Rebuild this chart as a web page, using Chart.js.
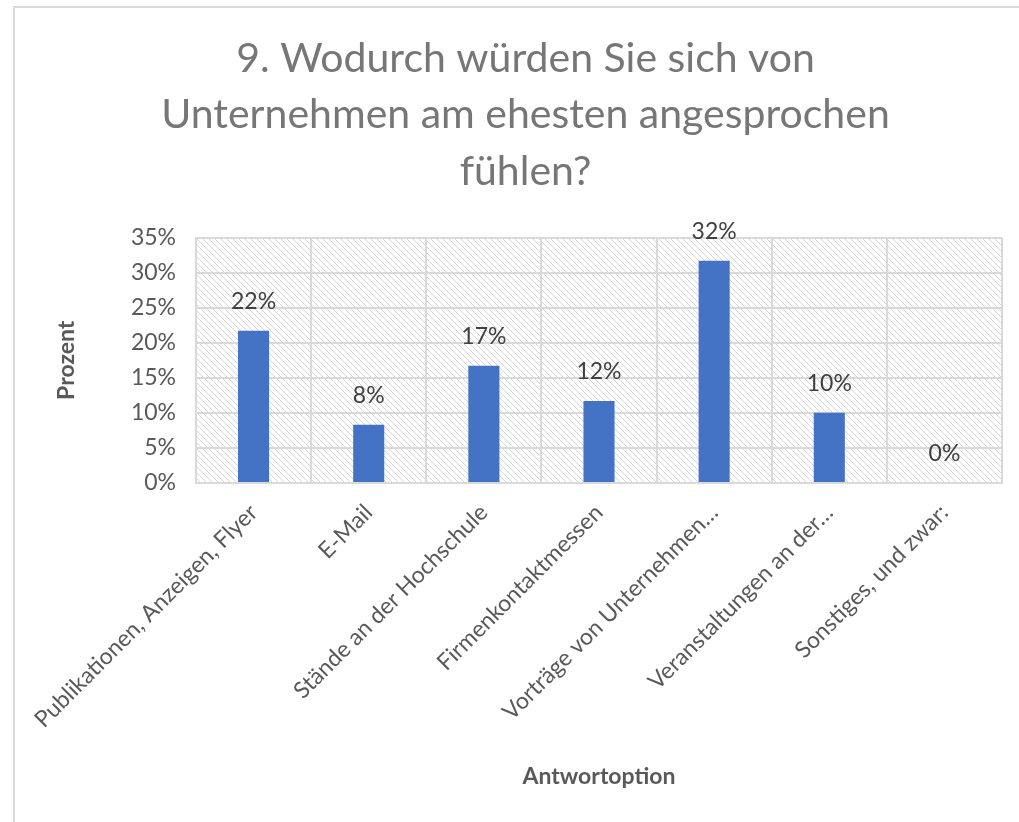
<!DOCTYPE html>
<html>
<head>
<meta charset="utf-8">
<script src="https://cdn.jsdelivr.net/npm/chart.js@4"></script>
<style>
  html, body { margin: 0; padding: 0; background: #fff; overflow: hidden; }
  #frame { position: absolute; left: 13px; top: 6px; width: 1100px; height: 900px;
           border-left: 2px solid #d9d9d9; border-top: 2px solid #d9d9d9; }
  #wrap { position: absolute; left: 0; top: 0; width: 1019px; height: 822px; }
</style>
</head>
<body>
<div id="frame"></div>
<div id="wrap"><canvas id="barChart" width="1019" height="822"></canvas></div>
<script>
// Frage 9 - Antworten in Prozent
var titleLines = ["9. Wodurch würden Sie sich von", "Unternehmen am ehesten angesprochen", "fühlen?"];
var categories = ["Publikationen, Anzeigen, Flyer", "E-Mail", "Stände an der Hochschule",
    "Firmenkontaktmessen", "Vorträge von Unternehmen…", "Veranstaltungen an der…", "Sonstiges, und zwar:"];
var percents = [21.7, 8.3, 16.7, 11.7, 31.7, 10.0, 0];
var yTicks = [0, 5, 10, 15, 20, 25, 30, 35];

// schraffur fuer die plotflaeche
function makeHatch() {
    var c = document.createElement('canvas');
    c.width = 6; c.height = 6;
    var g = c.getContext('2d');
    g.fillStyle = '#ffffff';
    g.fillRect(0, 0, 6, 6);
    g.strokeStyle = '#d6d6d6';
    g.lineWidth = 1;
    [-6, 0, 6].forEach(function (o) {
        g.beginPath();
        g.moveTo(o - 1, -1);
        g.lineTo(o + 7, 7);
        g.stroke();
    });
    return c;
}

var hatchBg = {
    id: 'hatchBg',
    beforeDraw: function (chart) {
        var a = chart.chartArea, ctx = chart.ctx;
        ctx.save();
        ctx.fillStyle = ctx.createPattern(makeHatch(), 'repeat');
        ctx.fillRect(a.left, a.top, a.right - a.left, a.bottom - a.top);
        ctx.restore();
    }
};

var valueLabels = {
    id: 'valueLabels',
    afterDatasetsDraw: function (chart) {
        var ctx = chart.ctx;
        var meta = chart.getDatasetMeta(0);
        ctx.save();
        ctx.font = '23px Lato';
        ctx.fillStyle = '#404040';
        ctx.textAlign = 'center';
        ctx.textBaseline = 'middle';
        meta.data.forEach(function (bar, i) {
            ctx.fillText(Math.round(percents[i]) + '%', bar.x, bar.y - 29);
        });
        ctx.restore();
    }
};

var ctxB = document.getElementById("barChart").getContext('2d');
var myBarChart = new Chart(ctxB, {
    type: 'bar',
    data: {
        labels: categories,
        datasets: [{
            data: percents,
            backgroundColor: "#4472C4",
            barPercentage: 0.27,
            categoryPercentage: 1
        }]
    },
    options: {
        responsive: false,
        animation: false,
        layout: { padding: { left: 49, right: 17, top: 10, bottom: 28 } },
        plugins: {
            legend: { display: false },
            tooltip: { enabled: false },
            title: {
                display: true,
                text: titleLines,
                color: '#767676',
                font: { family: 'Lato', size: 41, weight: 'normal', lineHeight: 1.37 },
                padding: { top: 21, bottom: 38 }
            }
        },
        scales: {
            x: {
                grid: { offset: true, color: '#d9d9d9', lineWidth: 2, drawTicks: false },
                border: { color: '#d9d9d9', width: 2 },
                ticks: { color: '#595959', font: { family: 'Lato', size: 23 },
                         minRotation: 45, maxRotation: 45, autoSkip: false, padding: 16 },
                title: { display: true, text: 'Antwortoption', color: '#595959',
                         font: { family: 'Lato', size: 23, weight: 'bold' } },
                afterFit: function (s) { s.height = 311; s.paddingLeft = 0; s.paddingRight = 0; }
            },
            y: {
                min: 0,
                max: 35,
                afterBuildTicks: function (s) { s.ticks = yTicks.map(function (v) { return { value: v }; }); },
                grid: { color: '#d9d9d9', lineWidth: 2, drawTicks: false },
                border: { color: '#d9d9d9', width: 2 },
                ticks: { color: '#595959', font: { family: 'Lato', size: 23 }, padding: 20,
                         callback: function (v) { return v + '%'; } },
                title: { display: true, text: 'Prozent', color: '#595959',
                         font: { family: 'Lato', size: 23, weight: 'bold' } },
                afterFit: function (s) { s.width = 147; s.paddingTop = 0; s.paddingBottom = 0; }
            }
        }
    },
    plugins: [hatchBg, valueLabels]
});
</script>
</body>
</html>
